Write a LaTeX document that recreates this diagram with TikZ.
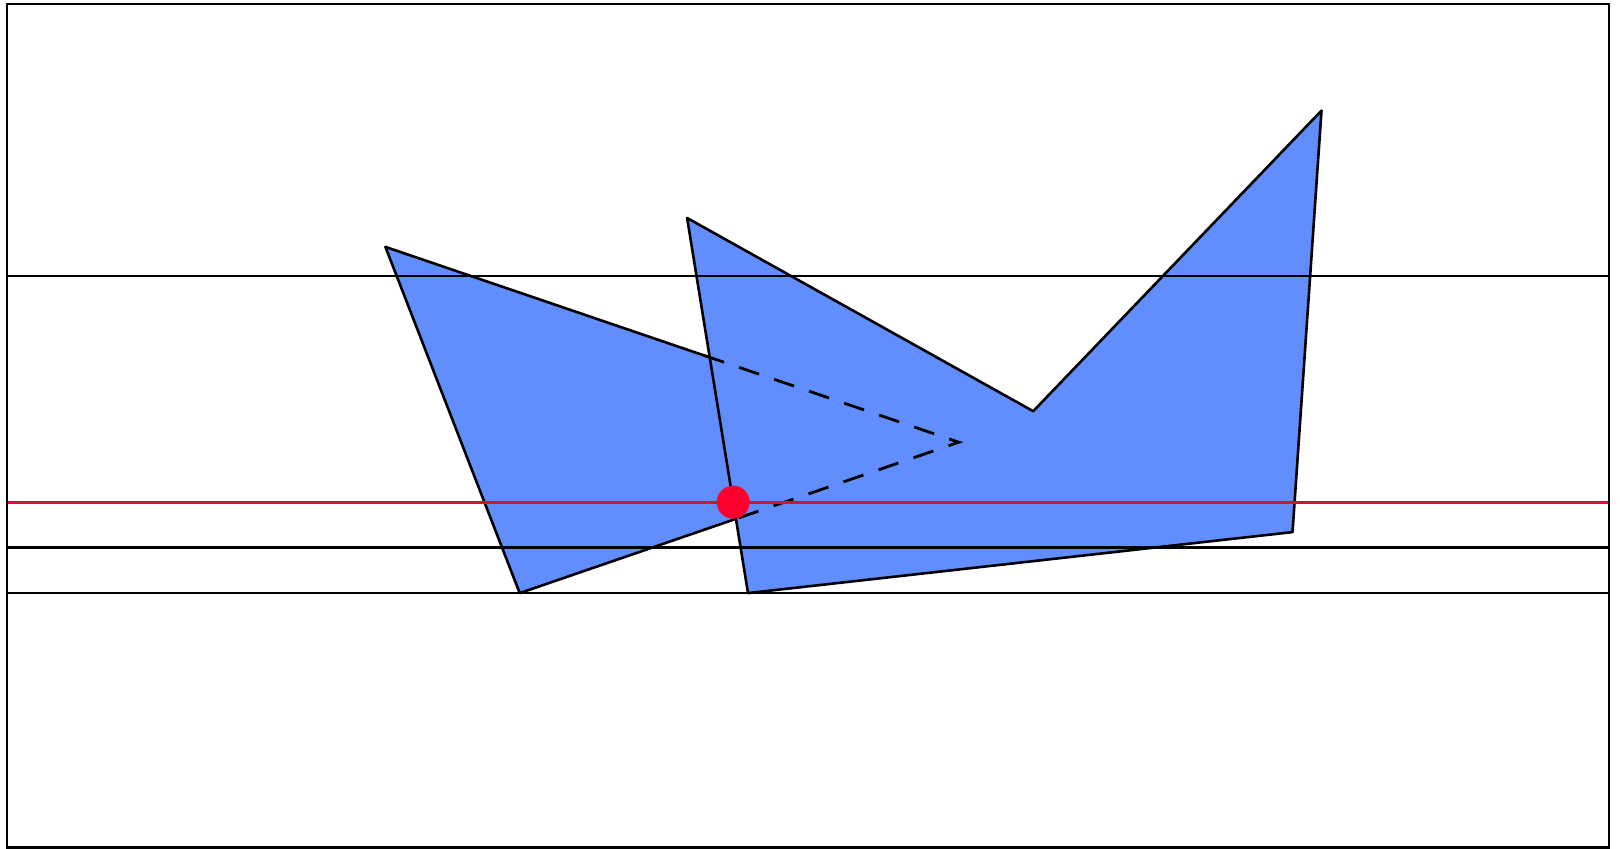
\documentclass[tikz,border=0pt]{standalone}
\usetikzlibrary{calc}
\definecolor{polyblue}{RGB}{97,141,253}
\definecolor{dotred}{RGB}{255,0,46}
\definecolor{linered}{RGB}{225,10,50}
\tikzset{
  edge/.style={draw=black, line width=1.3pt, line join=round},
  hline/.style={draw=black, line width=1.3pt},
  hidden/.style={draw=black, line width=1.4pt, dash pattern=on 10.5pt off 8pt},
}
\begin{document}
\begin{tikzpicture}[x=0.5pt,y=-0.5pt]
\useasboundingbox (0,0) rectangle (1620,849);
% left triangle
\coordinate (A1) at (385.4,246.9);
\coordinate (A2) at (958.8,442.2);
\coordinate (A3) at (519.7,593.1);
% right polygon
\coordinate (B1) at (687.1,218.0);
\coordinate (B2) at (1033.2,411.2);
\coordinate (B3) at (1321.5,110.6);
\coordinate (B4) at (1292.5,532.1);
\coordinate (B5) at (748.0,593.1);
% horizontal lines
\coordinate (L1) at (7,276);
\coordinate (R1) at (1609,276);
\coordinate (L2) at (7,547.6);
\coordinate (R2) at (1609,547.6);
\coordinate (L3) at (7,593.1);
\coordinate (R3) at (1609,593.1);
\coordinate (LR) at (7,502.2);
\coordinate (RR) at (1609,502.2);
\fill[polyblue] (A1) -- (A2) -- (A3) -- cycle;
\filldraw[fill=polyblue, edge] (B1) -- (B2) -- (B3) -- (B4) -- (B5) -- cycle;
% visible and hidden parts of triangle edges
\coordinate (P) at (intersection of A1--A2 and B1--B5);
\coordinate (Q) at (intersection of A2--A3 and B1--B5);
\coordinate (P0) at ($(P)!-3pt!(A2)$);
\draw[edge] (P) -- (A1) -- (A3) -- (Q);
\draw[hidden] (P0) -- (A2) -- (Q);
% horizontal lines
\draw[hline] (L1) -- (R1);
\draw[hline] (L2) -- (R2);
\draw[hline] (L3) -- (R3);
\draw[draw=linered, line width=1.3pt] (LR) -- (RR);
% frame
\draw[line width=1.4pt] (7,4) rectangle (1609,847.6);
% red dot
\coordinate (D) at (intersection of LR--RR and B1--B5);
\fill[dotred] (D) circle (16.5);
\end{tikzpicture}
\end{document}
